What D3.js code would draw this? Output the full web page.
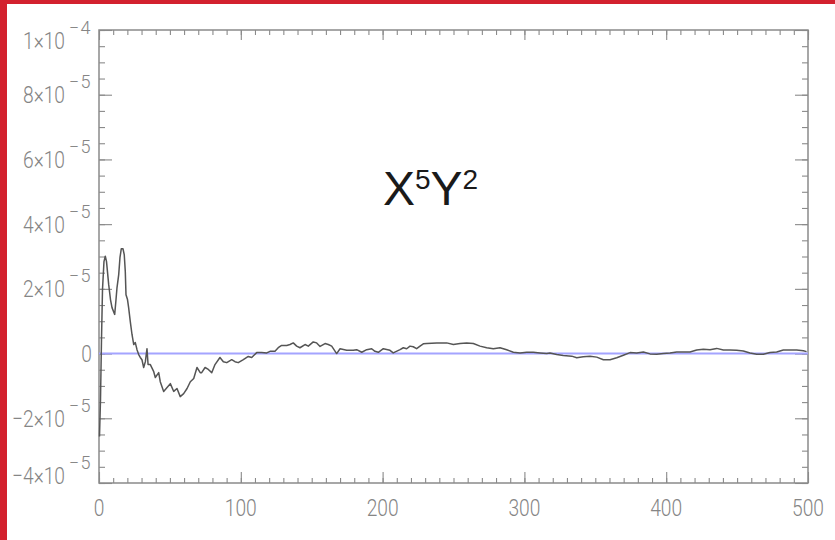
<!DOCTYPE html>
<html>
<head>
<meta charset="utf-8">
<script src="https://cdn.jsdelivr.net/npm/d3@7"></script>
<style>
  html, body { margin: 0; padding: 0; background: #fff; }
  svg { display: block; }
</style>
</head>
<body>
<svg id="chart" width="835" height="540"></svg>
<script>
// Running coefficient for X^5 Y^2, values in units of 1e-5
const sampleX = [
  0.35, 1.06, 1.76, 2.47, 3.5, 4.44, 5.3, 6.84, 8.1, 9.17, 11.07, 12.0, 12.7, 13.9, 14.8, 15.73,
  16.9, 17.8, 18.55, 19.04, 20.1, 20.9, 22.07, 23.27, 24.5, 25.6, 26.8, 28.0, 29.1, 30.3, 31.5,
  32.7, 33.85, 34.6, 36.2, 38.6, 39.7, 42.1, 43.2, 45.6, 48.0, 50.3, 52.7, 55.0, 57.3, 59.7,
  62.1, 64.4, 66.8, 69.1, 71.4, 72.4, 74.8, 77.1, 79.5, 81.8, 85.3, 87.7, 90.1, 93.6, 95.9,
  98.2, 101.8, 105.3, 107.7, 111.2, 114.7, 118.3, 120.6, 124.1, 126.4, 128.8, 132.4, 134.7,
  137.0, 139.4, 141.7, 145.3, 147.6, 151.1, 153.5, 155.9, 159.4, 161.7, 164.1, 167.6, 170.0,
  174.7, 179.3, 181.7, 185.3, 188.8, 192.3, 194.6, 197.0, 200.5, 205.2, 207.5, 212.3, 214.6,
  217.0, 219.3, 221.6, 224.0, 226.4, 228.7, 231.1, 238.2, 245.2, 249.9, 254.6, 259.3, 264.0,
  268.7, 273.4, 278.1, 282.8, 287.5, 292.2, 296.9, 301.6, 306.3, 311.0, 315.7, 318.0, 322.8,
  327.4, 333.4, 336.9, 341.5, 346.3, 351.0, 355.7, 360.4, 365.1, 369.8, 374.5, 379.2, 383.9,
  388.6, 393.3, 398.0, 402.7, 407.4, 412.1, 416.8, 421.5, 426.2, 430.9, 435.6, 440.3, 445.0,
  449.7, 454.4, 459.1, 463.8, 468.5, 473.2, 477.9, 482.6, 487.3, 492.0, 496.7, 499.0
];
const valuesE5 = [
  -2.56, -1.42, 0.43, 1.98, 2.84, 3.01, 2.84, 2.13, 1.67, 1.42, 1.21, 1.67, 2.04, 2.44, 2.97, 3.24,
  3.24, 3.06, 2.53, 1.82, 1.67, 1.42, 0.99, 0.59, 0.28, 0.34, 0.12, -0.03, -0.12, -0.19, -0.43,
  -0.25, 0.15, -0.34, -0.34, -0.56, -0.74, -0.59, -0.87, -1.17, -1.05, -0.93, -1.17, -1.08, -1.33, -1.24,
  -1.08, -0.87, -0.77, -0.43, -0.59, -0.59, -0.43, -0.49, -0.59, -0.34, -0.12, -0.25, -0.28, -0.19, -0.25,
  -0.28, -0.19, -0.09, -0.12, 0.03, 0.03, 0.02, 0.07, 0.07, 0.18, 0.25, 0.25, 0.28,
  0.33, 0.23, 0.18, 0.28, 0.23, 0.36, 0.33, 0.22, 0.31, 0.28, 0.23, 0.0, 0.15,
  0.10, 0.10, 0.12, 0.04, 0.12, 0.15, 0.07, 0.04, 0.15, 0.10, 0.02, 0.12, 0.18,
  0.15, 0.23, 0.21, 0.15, 0.23, 0.30, 0.31, 0.33, 0.33, 0.28, 0.31, 0.33, 0.31,
  0.23, 0.18, 0.15, 0.18, 0.12, 0.04, 0.02, 0.04, 0.04, 0.02, 0.0, 0.02, -0.03,
  -0.06, -0.08, -0.13, -0.10, -0.08, -0.11, -0.19, -0.19, -0.13, -0.05, 0.03, 0.02, 0.05,
  -0.01, -0.02, 0.0, 0.02, 0.05, 0.05, 0.05, 0.11, 0.13, 0.12, 0.16, 0.11, 0.11,
  0.10, 0.08, 0.02, -0.02, -0.02, 0.03, 0.05, 0.11, 0.11, 0.11, 0.09, 0.06
];

// Axis ticks and labels
const xTickValues = [0, 100, 200, 300, 400, 500];
const xTickLabels = ["0", "100", "200", "300", "400", "500"];
const yTickValues = [-4e-5, -2e-5, 0, 2e-5, 4e-5, 6e-5, 8e-5, 1e-4];
const yTickBase = ["\u22124\u00d710", "\u22122\u00d710", "0", "2\u00d710", "4\u00d710", "6\u00d710", "8\u00d710", "1\u00d710"];
const yTickExp = ["\u22125", "\u22125", "", "\u22125", "\u22125", "\u22125", "\u22125", "\u22124"];

const titleParts = [["X", "5"], ["Y", "2"]];

const svg = d3.select("#chart");
const W = 835, H = 540;
const M = { left: 99, right: 808, top: 30, bottom: 483 };

// frame accents
svg.append("rect").attr("x", 0).attr("y", 0).attr("width", W).attr("height", 4).attr("fill", "#d3212e");
svg.append("rect").attr("x", 0).attr("y", 0).attr("width", 7).attr("height", H).attr("fill", "#d3212e");

const x = d3.scaleLinear().domain([0, 500]).range([M.left, M.right]);
const y = d3.scaleLinear().domain([-4e-5, 1e-4]).range([M.bottom, M.top]);

const axisColor = "#8a8a8a";
const minorX = d3.range(0, 501, 10);
const minorY = d3.range(-4, 10.01, 0.5).map(v => v * 1e-5);

function styleAxis(g) {
  g.selectAll(".domain").remove();
  g.selectAll("text").remove();
  g.selectAll("line").attr("stroke", axisColor).attr("stroke-width", 1.1);
}

// bottom and top axes, ticks pointing inward
svg.append("g").attr("transform", `translate(0,${M.bottom})`)
  .call(d3.axisTop(x).tickValues(minorX).tickSize(5)).call(styleAxis);
svg.append("g").attr("transform", `translate(0,${M.bottom})`)
  .call(d3.axisTop(x).tickValues(xTickValues).tickSize(11)).call(styleAxis);
svg.append("g").attr("transform", `translate(0,${M.top})`)
  .call(d3.axisBottom(x).tickValues(minorX).tickSize(5)).call(styleAxis);
svg.append("g").attr("transform", `translate(0,${M.top})`)
  .call(d3.axisBottom(x).tickValues(xTickValues).tickSize(10)).call(styleAxis);

// left and right axes
svg.append("g").attr("transform", `translate(${M.left},0)`)
  .call(d3.axisRight(y).tickValues(minorY).tickSize(6)).call(styleAxis);
svg.append("g").attr("transform", `translate(${M.left},0)`)
  .call(d3.axisRight(y).tickValues(yTickValues).tickSize(13)).call(styleAxis);
svg.append("g").attr("transform", `translate(${M.right},0)`)
  .call(d3.axisLeft(y).tickValues(minorY).tickSize(6)).call(styleAxis);
svg.append("g").attr("transform", `translate(${M.right},0)`)
  .call(d3.axisLeft(y).tickValues(yTickValues).tickSize(13)).call(styleAxis);

// plot frame
svg.append("rect")
  .attr("x", M.left).attr("y", M.top)
  .attr("width", M.right - M.left).attr("height", M.bottom - M.top)
  .attr("fill", "none").attr("stroke", axisColor).attr("stroke-width", 1.5);

const labelFont = "Roboto, 'Liberation Sans', sans-serif";
const labelColor = "#858585";

// x tick labels
svg.append("g").selectAll("text").data(xTickValues).join("text")
  .attr("transform", d => `translate(${x(d)},516) scale(0.8,1)`)
  .attr("text-anchor", "middle")
  .attr("font-family", labelFont).attr("font-weight", 300)
  .attr("font-size", 24).attr("fill", labelColor)
  .text((d, i) => xTickLabels[i]);

// y tick labels: mantissa, then exponent raised above it
const yBase = d => Math.max(49, Math.min(484, y(d) + 8.5));
const yLabels = svg.append("g");
yLabels.selectAll("text.mant").data(yTickValues).join("text")
  .attr("class", "mant")
  .attr("transform", (d, i) => `translate(${yTickExp[i] ? 65 : 92},${yBase(d)}) scale(0.8,1)`)
  .attr("text-anchor", "end")
  .attr("font-family", labelFont).attr("font-weight", 300)
  .attr("font-size", 24).attr("fill", labelColor)
  .text((d, i) => yTickBase[i]);
yLabels.selectAll("text.exp").data(yTickValues).join("text")
  .attr("class", "exp")
  .attr("x", 92).attr("y", d => yBase(d) - 15)
  .attr("text-anchor", "end")
  .attr("font-family", labelFont).attr("font-weight", 300)
  .attr("font-size", 18).attr("letter-spacing", 1.5).attr("fill", labelColor)
  .text((d, i) => yTickExp[i]);

// zero reference
svg.append("line")
  .attr("x1", x(0)).attr("x2", x(500))
  .attr("y1", y(0)).attr("y2", y(0))
  .attr("stroke", "#a4a4ff").attr("stroke-width", 2);

// data curve
const pts = sampleX.map((v, i) => [v, valuesE5[i] * 1e-5]);
svg.append("path")
  .datum(pts)
  .attr("d", d3.line().x(d => x(d[0])).y(d => y(d[1])))
  .attr("fill", "none").attr("stroke", "#555555").attr("stroke-width", 1.5)
  .attr("stroke-linejoin", "round");

// title
const title = svg.append("text")
  .attr("x", 383).attr("y", 205)
  .attr("font-family", "'Liberation Sans', Arial, sans-serif")
  .attr("fill", "#1a1a1a");
titleParts.forEach(([b, e], i) => {
  title.append("tspan").attr("font-size", 48).attr("dy", i === 0 ? 0 : 16).text(b);
  title.append("tspan").attr("font-size", 28).attr("dy", -16).text(e);
});
</script>
</body>
</html>
